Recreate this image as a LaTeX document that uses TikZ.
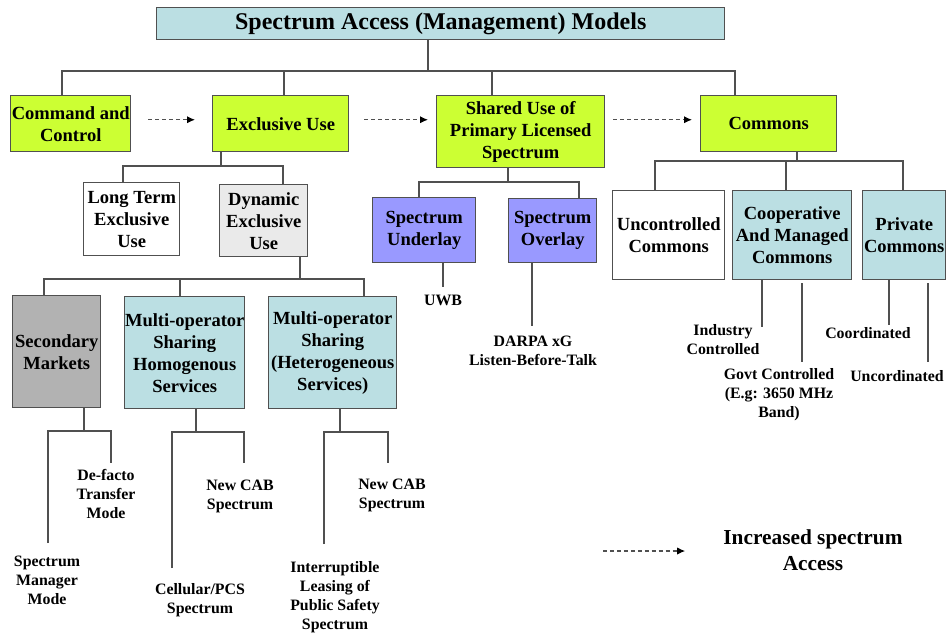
\documentclass[tikz,border=0pt]{standalone}
\usepackage{fontspec}
\setmainfont{Liberation Serif}
\usetikzlibrary{calc,arrows.meta}

\definecolor{limebox}{RGB}{204,255,51}
\definecolor{tealbox}{RGB}{187,223,227}
\definecolor{violetbox}{RGB}{153,153,255}
\definecolor{greybox}{RGB}{178,178,178}
\definecolor{palebox}{RGB}{234,234,234}
\definecolor{edge}{RGB}{80,80,80}

\begin{document}
\begin{tikzpicture}[x=0.75pt,y=0.75pt,yscale=-1,xscale=1,
	box/.style={draw=edge, line width=1.1pt, anchor=north west, inner sep=0pt, align=center, font=\fontsize{13.9}{16.5}\selectfont\bfseries},
	leaf/.style={inner sep=0pt, align=center, font=\fontsize{11.9}{14.3}\selectfont\bfseries},
	link/.style={draw=edge, line width=1.1pt},
	flow/.style={draw=edge, line width=0.9pt, dash pattern=on 3pt off 2.2pt, -{Latex[length=6pt,width=5.5pt,black]}}]
	%set diagram left start at 0, and has height of 637
	\useasboundingbox (0,0) rectangle (946,637);
	
	%Shape: Rectangle [title]
	\node[box, fill=tealbox, minimum width=426pt, minimum height=24pt, font=\fontsize{18}{21.6}\selectfont\bfseries] (title) at (156,7) {Spectrum Access (Management) Models};
	
	%Shape: Rectangle [models]
	\node[box, fill=limebox, minimum width=90pt, minimum height=42pt] (cc) at (10,95) {Command and\\Control};
	\node[box, fill=limebox, minimum width=102pt, minimum height=42pt] (excl) at (212,95) {Exclusive Use};
	\node[box, fill=limebox, minimum width=126pt, minimum height=54pt] (shared) at (436,95) {Shared Use of\\Primary Licensed\\Spectrum};
	\node[box, fill=limebox, minimum width=102pt, minimum height=42pt] (commons) at (700,95) {Commons};
	
	%Shape: Rectangle [second row]
	\node[box, fill=white, minimum width=72pt, minimum height=54.75pt] (longterm) at (83,182) {Long Term\\Exclusive\\Use};
	\node[box, fill=palebox, minimum width=66pt, minimum height=54pt] (dynamic) at (219,184) {Dynamic\\Exclusive\\Use};
	\node[box, fill=violetbox, minimum width=77.25pt, minimum height=48.75pt] (underlay) at (372,197) {Spectrum\\Underlay};
	\node[box, fill=violetbox, minimum width=66pt, minimum height=48pt] (overlay) at (508,198) {Spectrum\\Overlay};
	\node[box, fill=white, minimum width=84pt, minimum height=66.75pt] (uncontrolled) at (612,190) {Uncontrolled\\Commons};
	\node[box, fill=tealbox, minimum width=89.25pt, minimum height=66.75pt] (coop) at (732,190) {Cooperative\\And Managed\\Commons};
	\node[box, fill=tealbox, minimum width=62.25pt, minimum height=66.75pt] (private) at (862,190) {Private\\Commons};
	
	%Shape: Rectangle [third row]
	\node[box, fill=greybox, minimum width=66pt, minimum height=84pt] (secondary) at (12,295) {Secondary\\Markets};
	\node[box, fill=tealbox, minimum width=90pt, minimum height=84pt] (homog) at (124,296) {Multi-operator\\Sharing\\Homogenous\\Services};
	\node[box, fill=tealbox, minimum width=96pt, minimum height=84pt] (heter) at (268,296) {Multi-operator\\Sharing\\(Heterogeneous\\Services)};
	
	% Text Node
	\node[leaf] (defacto) at (106,494) {De-facto\\Transfer\\Mode};
	% Text Node
	\node[leaf] (manager) at (47,580) {Spectrum\\Manager\\Mode};
	% Text Node
	\node[leaf] (cabhomog) at (240,496) {New CAB\\Spectrum};
	% Text Node
	\node[leaf] (cellular) at (200,600) {Cellular/PCS\\Spectrum};
	% Text Node
	\node[leaf] (cabheter) at (392,495) {New CAB\\Spectrum};
	% Text Node
	\node[leaf] (leasing) at (335,597) {Interruptible\\Leasing of\\Public Safety\\Spectrum};
	% Text Node
	\node[leaf] (uwb) at (443,300) {UWB};
	% Text Node
	\node[leaf] (darpa) at (533,351) {DARPA xG\\Listen-Before-Talk};
	% Text Node
	\node[leaf] (industry) at (723,340) {Industry\\Controlled};
	% Text Node
	\node[leaf] (govt) at (779,395) {Govt Controlled\\(E.g: 3650 MHz\\Band)};
	% Text Node
	\node[leaf] (coord) at (868,333) {Coordinated};
	% Text Node
	\node[leaf] (uncoord) at (897,376) {Uncordinated};
	% Text Node
	\node[leaf, font=\fontsize{16}{19.5}\selectfont\bfseries] (more) at (813,550) {Increased spectrum\\Access};
	
	%Straight Lines [top tree]
	\coordinate (t0) at (428,71); \coordinate (t1) at (62,71); \coordinate (t2) at (284,71);
	\coordinate (t3) at (492,71); \coordinate (t4) at (735,71);
	\draw[link] (title.south -| t0) -- (t0);
	\draw[link] (cc.north -| t1) -- (t1) -- (t4) -- (commons.north -| t4);
	\draw[link] (t2) -- (excl.north -| t2);
	\draw[link] (t3) -- (shared.north -| t3);
	
	%Straight Lines [exclusive use]
	\coordinate (e0) at (221,166); \coordinate (e1) at (123,166); \coordinate (e2) at (283,166);
	\draw[link] (excl.south -| e0) -- (e0);
	\draw[link] (longterm.north -| e1) -- (e1) -- (e2) -- (dynamic.north -| e2);
	
	%Straight Lines [dynamic exclusive use]
	\coordinate (d0) at (300,279); \coordinate (d1) at (44,279); \coordinate (d2) at (180,279); \coordinate (d3) at (364,279);
	\draw[link] (dynamic.south -| d0) -- (d0);
	\draw[link] (secondary.north -| d1) -- (d1) -- (d3) -- (heter.north -| d3);
	\draw[link] (d2) -- (homog.north -| d2);
	
	%Straight Lines [shared use]
	\coordinate (s0) at (508,182); \coordinate (s1) at (419,182); \coordinate (s2) at (579,182);
	\draw[link] (shared.south -| s0) -- (s0);
	\draw[link] (underlay.north -| s1) -- (s1) -- (s2) -- (overlay.north -| s2);
	
	%Straight Lines [commons]
	\coordinate (c0) at (797,161); \coordinate (c1) at (655,161); \coordinate (c2) at (786,161); \coordinate (c3) at (903,161);
	\draw[link] (commons.south -| c0) -- (c0);
	\draw[link] (uncontrolled.north -| c1) -- (c1) -- (c3) -- (private.north -| c3);
	\draw[link] (c2) -- (coop.north -| c2);
	
	%Straight Lines [secondary markets]
	\coordinate (m0) at (84,431); \coordinate (m1) at (48,543); \coordinate (m2) at (111,463);
	\draw[link] (secondary.south -| m0) -- (m0);
	\draw[link] (m1) -- (m1 |- m0) -- (m2 |- m0) -- (m2);
	
	%Straight Lines [homogenous]
	\coordinate (h0) at (196,432); \coordinate (h1) at (172,568); \coordinate (h2) at (244,463);
	\draw[link] (homog.south -| h0) -- (h0);
	\draw[link] (h1) -- (h1 |- h0) -- (h2 |- h0) -- (h2);
	
	%Straight Lines [heterogeneous]
	\coordinate (g0) at (340,432); \coordinate (g1) at (324,544); \coordinate (g2) at (388,463);
	\draw[link] (heter.south -| g0) -- (g0);
	\draw[link] (g1) -- (g1 |- g0) -- (g2 |- g0) -- (g2);
	
	%Straight Lines [single legs]
	\coordinate (u1) at (443,287); \coordinate (o1) at (532,326);
	\coordinate (k1) at (762,327); \coordinate (k2) at (802,362);
	\coordinate (p1) at (889,325); \coordinate (p2) at (928,362);
	\draw[link] (underlay.south -| u1) -- (u1);
	\draw[link] (overlay.south -| o1) -- (o1);
	\draw[link] (coop.south -| k1) -- (k1);
	\draw[link] ($(coop.south -| k2)+(0,3)$) -- (k2);
	\draw[link] (private.south -| p1) -- (p1);
	\draw[link] ($(private.south -| p2)+(0,3)$) -- (p2);
	
	%Dashed Arrows
	\draw[flow] ($(cc.east)+(17,-4)$) -- ($(excl.west)+(-17,-4)$);
	\draw[flow] ($(excl.east)+(15,-4)$) -- ($(shared.west)+(-8,-12)$);
	\draw[flow] ($(shared.east)+(8,-12)$) -- ($(commons.west)+(-8,-4)$);
	\draw[flow] ($(more.west)+(-120,1)$) -- ($(more.west)+(-38,1)$);
	
\end{tikzpicture}
\end{document}
